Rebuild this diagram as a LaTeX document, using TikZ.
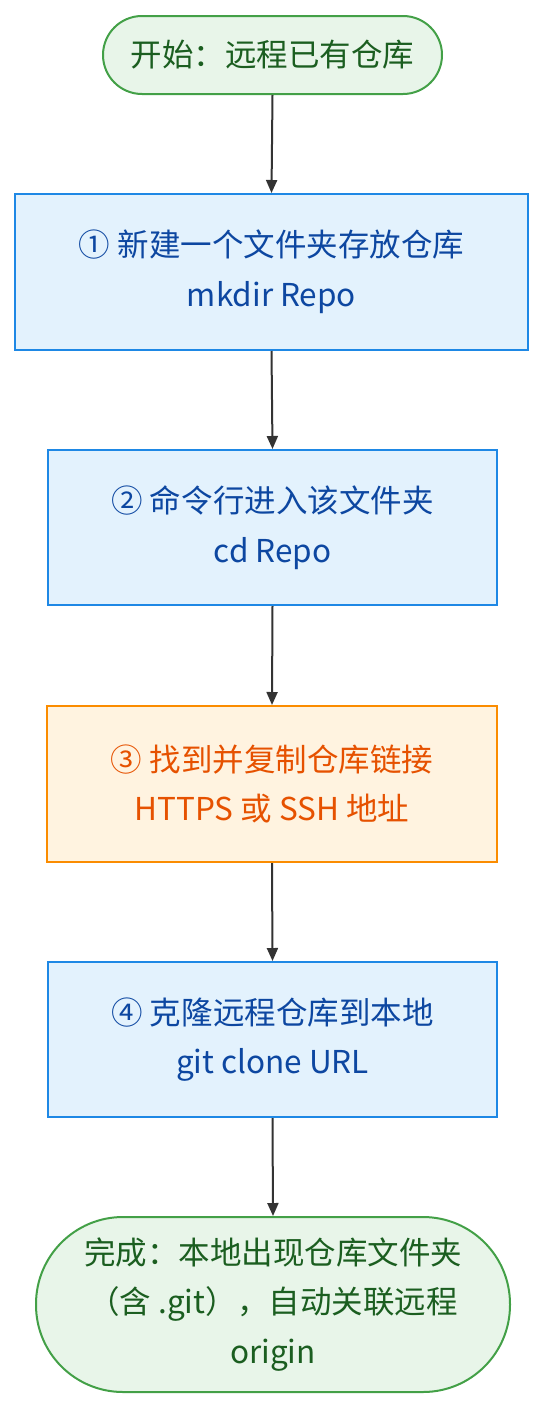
\documentclass[tikz,border=0pt]{standalone}
\usepackage{fontspec}
\setmainfont{Noto Sans CJK SC}
\usetikzlibrary{arrows.meta}
\definecolor{gfill}{HTML}{E8F5E9}
\definecolor{gline}{HTML}{43A047}
\definecolor{gtext}{HTML}{1B5E20}
\definecolor{bfill}{HTML}{E3F2FD}
\definecolor{bline}{HTML}{1E88E5}
\definecolor{btext}{HTML}{0D47A1}
\definecolor{ofill}{HTML}{FFF3E0}
\definecolor{oline}{HTML}{FB8C00}
\definecolor{otext}{HTML}{E65100}
\definecolor{edge}{HTML}{333333}
\tikzset{
  base/.style={font=\fontsize{31.5}{49.5}\selectfont, align=center, line width=2pt, inner sep=0pt},
  term/.style={base, draw=gline, fill=gfill, text=gtext},
  bluebox/.style={base, draw=bline, fill=bfill, text=btext, rectangle},
  orangebox/.style={base, draw=oline, fill=ofill, text=otext, rectangle},
  conn/.style={draw=edge, line width=2pt, -{Triangle[length=13pt,width=11pt]}}
}
\begin{document}
\begin{tikzpicture}[x=1pt,y=-1pt]
\useasboundingbox (0,0) rectangle (545,1408);
\node[term, minimum width=339pt, minimum height=78pt, rounded corners=39pt] (start) at (272.5,55) {开始：远程已有仓库};
\node[bluebox, minimum width=513pt, minimum height=156pt] (s1) at (271.5,272) {① 新建一个文件夹存放仓库\\mkdir Repo};
\node[bluebox, minimum width=449pt, minimum height=155pt] (s2) at (272.5,527.5) {② 命令行进入该文件夹\\cd Repo};
\node[orangebox, minimum width=450pt, minimum height=156pt] (s3) at (272,784) {③ 找到并复制仓库链接\\HTTPS 或 SSH 地址};
\node[bluebox, minimum width=449pt, minimum height=155pt] (s4) at (272.5,1039.5) {④ 克隆远程仓库到本地\\git clone URL};
\node[term, minimum width=474pt, minimum height=175pt, rounded corners=87pt] (done) at (273,1304.5) {完成：本地出现仓库文件夹\\（含 .git），自动关联远程\\origin};
\draw[conn] (start.south) -- (s1.north);
\draw[conn] (s1.south) -- (s2.north);
\draw[conn] (s2.south) -- (s3.north);
\draw[conn] (s3.south) -- (s4.north);
\draw[conn] (s4.south) -- (done.north);
\end{tikzpicture}
\end{document}
